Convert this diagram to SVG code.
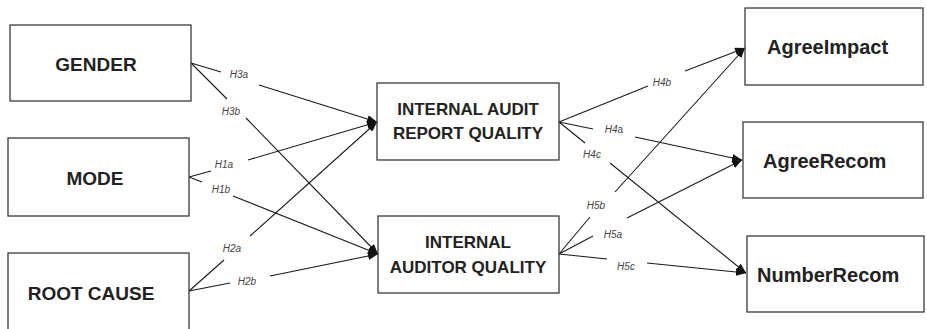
<svg xmlns="http://www.w3.org/2000/svg" width="927" height="329" viewBox="0 0 927 329">
  <style>
    .box { fill: #ffffff; stroke: #3a3a3a; stroke-width: 1.3; }
    .lbl-l { font-family: "Liberation Sans", Arial, sans-serif; font-weight: bold; font-size: 19px; fill: #222; text-anchor: middle; }
    .lbl-m { font-family: "Liberation Sans", Arial, sans-serif; font-weight: bold; font-size: 17px; fill: #222; text-anchor: middle; }
    .lbl-r { font-family: "Liberation Sans", Arial, sans-serif; font-weight: bold; font-size: 20px; fill: #222; }
    .hyp { font-family: "Liberation Sans", Arial, sans-serif; font-style: italic; font-size: 10px; fill: #444; text-anchor: middle; }
    .up { font-style: normal; }
    .edge { fill: none; stroke: #1a1a1a; stroke-width: 1.1; }
    .arr { marker-end: url(#head); }
  </style>
  <defs>
    <marker id="head" markerUnits="userSpaceOnUse" markerWidth="10" markerHeight="8" refX="10" refY="4" orient="auto">
      <path d="M0,0 L10,4 L0,8 z" fill="#111"/>
    </marker>
  </defs>

  <rect width="927" height="329" fill="#ffffff"/>

  <!-- connectors: each path is split where its hypothesis label sits -->
  <g id="connectors">
    <!-- H3a: GENDER -> report quality -->
    <path class="edge" d="M191,63 L221,72"/>
    <path class="edge arr" d="M259,85 L377,122"/>
    <!-- H3b: GENDER -> auditor quality -->
    <path class="edge" d="M191,63 L227,99"/>
    <path class="edge arr" d="M246,118 L378,254"/>
    <!-- H1a: MODE -> report quality -->
    <path class="edge" d="M189,177 L211,171"/>
    <path class="edge arr" d="M248,160 L377,122"/>
    <!-- H1b: MODE -> auditor quality -->
    <path class="edge" d="M189,177 L202,182"/>
    <path class="edge arr" d="M233,196 L378,254"/>
    <!-- H2a: ROOT CAUSE -> report quality -->
    <path class="edge" d="M189,291 L224,260"/>
    <path class="edge arr" d="M250,236 L377,122"/>
    <!-- H2b: ROOT CAUSE -> auditor quality -->
    <path class="edge" d="M189,291 L230,283"/>
    <path class="edge arr" d="M270,276 L378,254"/>

    <!-- H4b: report quality -> AgreeImpact -->
    <path class="edge" d="M559,122 L648,86"/>
    <path class="edge arr" d="M685,71 L745,48"/>
    <!-- H4a: report quality -> AgreeRecom -->
    <path class="edge" d="M559,122 L593,129"/>
    <path class="edge arr" d="M635,137 L742,160"/>
    <!-- H4c: report quality -> NumberRecom -->
    <path class="edge" d="M559,122 L585,143"/>
    <path class="edge arr" d="M610,163 L746,273"/>
    <!-- H5b: auditor quality -> AgreeImpact -->
    <path class="edge" d="M559,254 L590,217"/>
    <path class="edge arr" d="M615,192 L745,48"/>
    <!-- H5a: auditor quality -> AgreeRecom -->
    <path class="edge" d="M559,254 L593,236"/>
    <path class="edge arr" d="M627,218 L742,160"/>
    <!-- H5c: auditor quality -> NumberRecom -->
    <path class="edge" d="M559,254 L607,259"/>
    <path class="edge arr" d="M647,263 L746,273"/>
  </g>

  <!-- hypothesis labels -->
  <g id="hypotheses">
    <text class="hyp" x="239" y="78">H3a</text>
    <text class="hyp" x="231" y="115">H3b</text>
    <text class="hyp" x="224" y="168">H1a</text>
    <text class="hyp" x="221" y="193">H1b</text>
    <text class="hyp" x="232" y="252">H2a</text>
    <text class="hyp" x="247" y="285">H2b</text>
    <text class="hyp" x="662" y="86">H4b</text>
    <text class="hyp" x="614" y="132.5">H4<tspan class="up">a</tspan></text>
    <text class="hyp" x="592" y="158">H4c</text>
    <text class="hyp" x="596" y="209">H5b</text>
    <text class="hyp" x="613" y="238">H5a</text>
    <text class="hyp" x="626" y="270">H5c</text>
  </g>

  <!-- antecedents -->
  <g id="gender">
    <rect class="box" x="10" y="25" width="181" height="76"/>
    <text class="lbl-l" x="96" y="71">GENDER</text>
  </g>
  <g id="mode">
    <rect class="box" x="8" y="138" width="181" height="78"/>
    <text class="lbl-l" x="95" y="185">MODE</text>
  </g>
  <g id="root-cause">
    <rect class="box" x="8" y="253" width="181" height="90"/>
    <text class="lbl-l" x="91" y="300">ROOT CAUSE</text>
  </g>

  <!-- mediators -->
  <g id="report-quality">
    <rect class="box" x="377" y="83" width="182" height="77"/>
    <text class="lbl-m" x="468" y="115">INTERNAL AUDIT</text>
    <text class="lbl-m" x="468" y="139">REPORT QUALITY</text>
  </g>
  <g id="auditor-quality">
    <rect class="box" x="378" y="216" width="181" height="77"/>
    <text class="lbl-m" x="468" y="248">INTERNAL</text>
    <text class="lbl-m" x="468" y="272.5">AUDITOR QUALITY</text>
  </g>

  <!-- outcomes -->
  <g id="agree-impact">
    <rect class="box" x="745" y="8" width="178" height="77"/>
    <text class="lbl-r" x="767" y="54">AgreeImpact</text>
  </g>
  <g id="agree-recom">
    <rect class="box" x="743" y="122" width="180" height="76"/>
    <text class="lbl-r" x="763" y="168">AgreeRecom</text>
  </g>
  <g id="number-recom">
    <rect class="box" x="747" y="236" width="177" height="76"/>
    <text class="lbl-r" x="757" y="282">NumberRecom</text>
  </g>
</svg>
